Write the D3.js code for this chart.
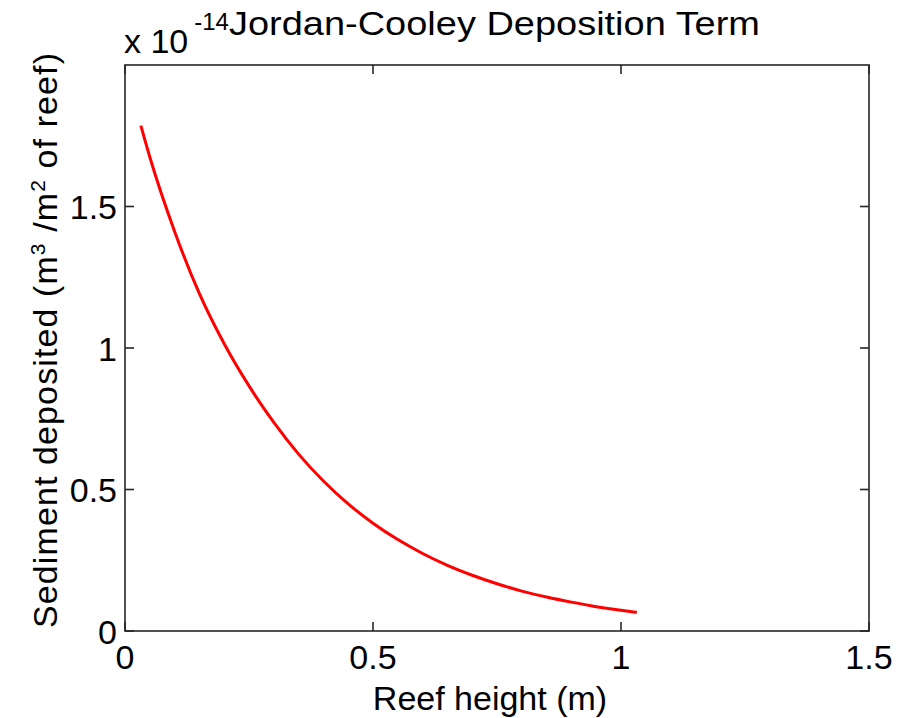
<!DOCTYPE html>
<html>
<head>
<meta charset="utf-8">
<script src="https://cdn.jsdelivr.net/npm/d3@7/dist/d3.min.js"></script>
<style>
  html, body { margin: 0; padding: 0; background: #fff; }
  svg { display: block; }
  text { font-family: "Liberation Sans", Arial, sans-serif; fill: #000; }
</style>
</head>
<body>
<svg id="chart" width="897" height="718"></svg>
<script>
// Reef height (m)
const reefHeight = [0.032, 0.05, 0.10, 0.15, 0.20, 0.25, 0.30, 0.35, 0.40, 0.45, 0.50,
                    0.55, 0.60, 0.65, 0.70, 0.75, 0.80, 0.85, 0.90, 0.95, 1.00, 1.032];
// Sediment deposited, in units of 1e-14 m^3/m^2 of reef
const sediment = [1.786, 1.675, 1.412, 1.192, 1.015, 0.866, 0.737, 0.625, 0.530, 0.449, 0.381,
                  0.323, 0.274, 0.232, 0.197, 0.167, 0.141, 0.120, 0.102, 0.086, 0.073, 0.066];

const xTicks = [0, 0.5, 1, 1.5];
const yTicks = [0, 0.5, 1, 1.5];
const xTickLabels = ["0", "0.5", "1", "1.5"];
const yTickLabels = ["0", "0.5", "1", "1.5"];

const svg = d3.select("#chart");
const L = 125, R = 869, T = 65, B = 631;

const x = d3.scaleLinear().domain([0, 1.5]).range([L, R]);
const y = d3.scaleLinear().domain([0, 2]).range([B, T]);

const axisColor = "#262626";
const tickLen = 9;

// Axes box
svg.append("rect")
  .attr("x", L).attr("y", T).attr("width", R - L).attr("height", B - T)
  .attr("fill", "none").attr("stroke", axisColor).attr("stroke-width", 1.6);

// Ticks on all four sides, pointing inward
const gx = svg.append("g").attr("stroke", axisColor).attr("stroke-width", 1.6);
xTicks.forEach(v => {
  gx.append("line").attr("x1", x(v)).attr("x2", x(v)).attr("y1", B).attr("y2", B - tickLen);
  gx.append("line").attr("x1", x(v)).attr("x2", x(v)).attr("y1", T).attr("y2", T + tickLen);
});
yTicks.forEach(v => {
  gx.append("line").attr("x1", L).attr("x2", L + tickLen).attr("y1", y(v)).attr("y2", y(v));
  gx.append("line").attr("x1", R).attr("x2", R - tickLen).attr("y1", y(v)).attr("y2", y(v));
});

// Tick labels
svg.append("g").selectAll("text").data(xTicks).join("text")
  .attr("x", d => x(d)).attr("y", 669)
  .attr("text-anchor", "middle").attr("font-size", 34)
  .text((d, i) => xTickLabels[i]);

svg.append("g").selectAll("text").data(yTicks).join("text")
  .attr("x", 117).attr("y", d => y(d) + 12.5)
  .attr("text-anchor", "end").attr("font-size", 34)
  .text((d, i) => yTickLabels[i]);

// Exponent label
const expo = svg.append("text").attr("x", 124).attr("y", 53).attr("font-size", 34);
expo.append("tspan").text("x 10");
expo.append("tspan").attr("font-size", 24).attr("dy", -23).attr("dx", 6).text("-14");

// Title
svg.append("text")
  .attr("x", 494.5).attr("y", 35)
  .attr("text-anchor", "middle").attr("font-size", 34)
  .attr("textLength", 531).attr("lengthAdjust", "spacingAndGlyphs")
  .text("Jordan-Cooley Deposition Term");

// Axis labels
svg.append("text")
  .attr("x", 490).attr("y", 710)
  .attr("text-anchor", "middle").attr("font-size", 34)
  .text("Reef height (m)");

const yl = svg.append("text")
  .attr("transform", "translate(57, 340.5) rotate(-90)")
  .attr("text-anchor", "middle").attr("font-size", 34)
  .attr("textLength", 575).attr("lengthAdjust", "spacing");
yl.append("tspan").text("Sediment deposited (m");
yl.append("tspan").attr("font-size", 21).attr("dy", -12).text("3");
yl.append("tspan").attr("dy", 12).text(" /m");
yl.append("tspan").attr("font-size", 21).attr("dy", -12).text("2");
yl.append("tspan").attr("dy", 12).text("  of reef)");

// Data curve
const line = d3.line().x((d, i) => x(reefHeight[i])).y(d => y(d)).curve(d3.curveMonotoneX);
svg.append("path")
  .datum(sediment)
  .attr("d", line)
  .attr("fill", "none")
  .attr("stroke", "#ff0000")
  .attr("stroke-width", 3);
</script>
</body>
</html>
